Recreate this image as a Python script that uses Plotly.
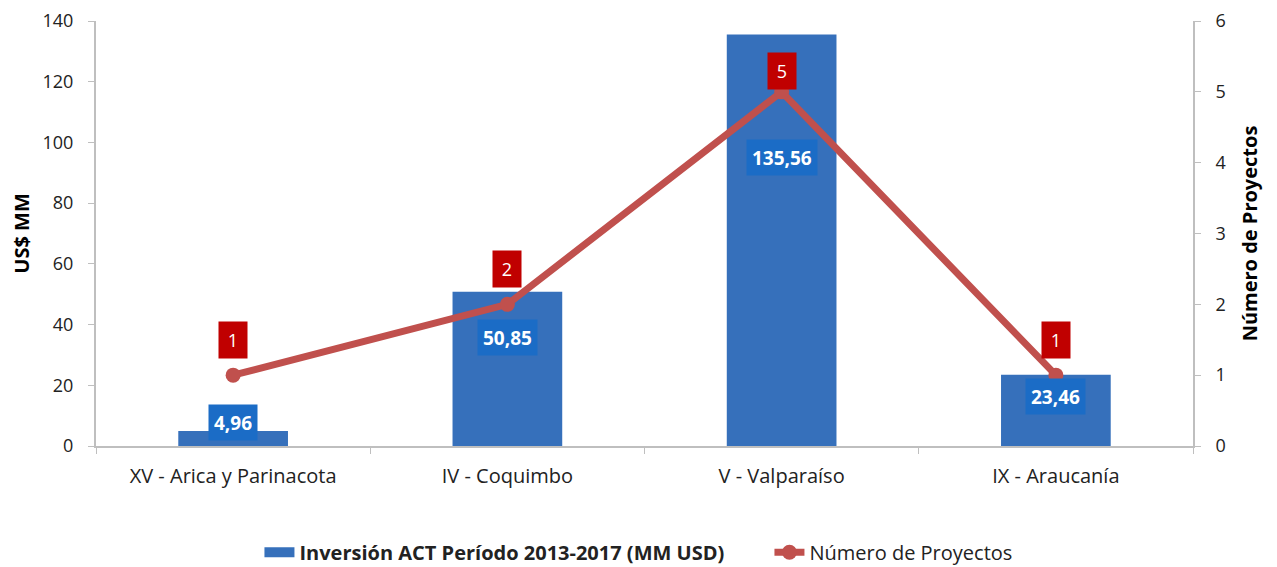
import plotly.graph_objects as go

regiones = ["XV - Arica y Parinacota", "IV - Coquimbo", "V - Valparaíso", "IX - Araucanía"]
inversion = [4.96, 50.85, 135.56, 23.46]
proyectos = [1, 2, 5, 1]
inv_labels = ["4,96", "50,85", "135,56", "23,46"]

FONT = "Open Sans"
BLUE = "#3670bb"
fig = go.Figure()
fig.add_trace(go.Bar(
    x=regiones, y=inversion, width=0.4,
    name="<b>Inversión ACT Período 2013-2017 (MM USD)</b>",
    marker=dict(color=BLUE, line=dict(width=0)),
    yaxis="y", showlegend=False, legendgroup="inv",
))
# legend-only entry to mimic the wide rectangle legend symbol
fig.add_trace(go.Scatter(
    x=[None], y=[None], mode="lines", legendgroup="inv",
    name="<b>Inversión ACT Período 2013-2017 (MM USD)</b>",
    line=dict(color=BLUE, width=12), yaxis="y",
))
fig.add_trace(go.Scatter(
    x=regiones, y=proyectos, mode="lines+markers",
    name="Número de Proyectos",
    line=dict(color="#c0504d", width=7),
    marker=dict(color="#c0504d", size=15),
    yaxis="y2",
))

# bar value labels
for r, v, t in zip(regiones, inversion, inv_labels):
    fig.add_annotation(x=r, y=max(v * 0.7, 7.8), xref="x", yref="y", text="<b>" + t + "</b>",
                       showarrow=False, bgcolor="#1b6cc6", font=dict(color="white", size=19, family=FONT),
                       height=25, borderpad=5)
# line value labels
pmax = max(proyectos)
for r, p in zip(regiones, proyectos):
    fig.add_annotation(x=r, y=p, xref="x", yref="y2", text=str(p), yshift=35 if p < pmax else 21,
                       showarrow=False, bgcolor="#c00000", font=dict(color="white", size=18, family=FONT),
                       width=18, height=26, borderpad=5)

axis_common = dict(showgrid=False, zeroline=False, showline=True, linecolor="#bfbfbf", linewidth=2,
                   ticks="outside", tickcolor="#bfbfbf", ticklen=6, tickwidth=1, automargin=False,
                   ticklabelstandoff=11, ticklabeloverflow="allow",
                   tickfont=dict(size=18, color="#222", family=FONT))
fig.update_layout(
    width=1277, height=567,
    paper_bgcolor="white", plot_bgcolor="white",
    margin=dict(l=88, r=92, t=13, b=129, autoexpand=False),
    font=dict(family=FONT, color="#222"),
    xaxis=dict(showgrid=False, showline=True, linecolor="#bfbfbf", linewidth=2, ticks="outside",
               tickson="boundaries", tickcolor="#bfbfbf", ticklen=6, automargin=False,
               ticklabelstandoff=11, ticklabeloverflow="allow",
               tickfont=dict(size=20, color="#222", family=FONT)),
    yaxis=dict(range=[0, 140], dtick=20,
               title=dict(text="<b>US$ MM</b>", font=dict(size=20, color="#000", family=FONT), standoff=18),
               **axis_common),
    yaxis2=dict(range=[0, 6], dtick=1, overlaying="y", side="right",
                title=dict(text="<b>Número de Proyectos</b>", font=dict(size=20, color="#000", family=FONT), standoff=18),
                **axis_common),
    legend=dict(orientation="h", x=0.149, xanchor="left", y=-0.25, yanchor="middle",
                entrywidth=465, font=dict(size=20, color="#222", family=FONT), tracegroupgap=0),
    showlegend=True,
)
fig.write_html("out.html")
